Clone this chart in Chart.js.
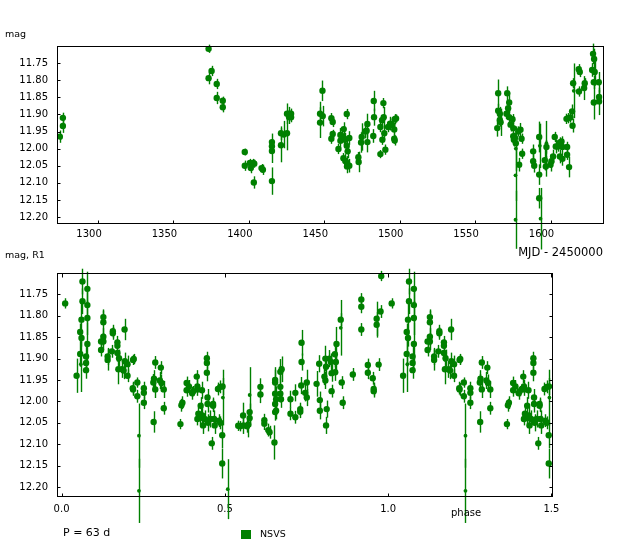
<!DOCTYPE html>
<html>
<head>
<meta charset="utf-8">
<script src="https://cdn.jsdelivr.net/npm/chart.js@4.4.0/dist/chart.umd.min.js"></script>
<style>
  body { margin: 0; background: #fff; width: 624px; height: 554px; overflow: hidden; position: relative; }
  canvas { position: absolute; left: 0; }
  #lc { top: 0; }
  #ph { top: 258px; }
</style>
</head>
<body>
<canvas id="lc" width="624" height="262"></canvas>
<canvas id="ph" width="624" height="296"></canvas>
<script>
// light curve, MJD - 2450000
var lcMjd = [1274.7, 1276.7, 1276.7, 1373.3, 1375.3, 1373.3, 1378.7, 1378.7, 1382.7, 1382.7,
  1397.3, 1397.3, 1400.7, 1401.3, 1402.9, 1403.6, 1403.3, 1408.4, 1409.3, 1415.3,
  1415.3, 1415.3, 1415.3, 1421.3, 1421.3, 1423.1, 1425.3, 1425.3, 1426.7, 1426.7,
  1428.0, 1428.0,
  1448.8, 1447.2, 1449.0, 1447.2, 1454.7, 1455.6, 1455.6, 1454.7, 1464.9, 1462.9,
  1460.7, 1462.0, 1463.1, 1460.7, 1464.0, 1466.6, 1459.4, 1464.9, 1465.5, 1462.7,
  1464.0, 1465.1, 1466.6, 1465.1, 1472.6, 1472.8, 1474.8, 1474.4, 1477.0, 1478.6,
  1478.1, 1478.6, 1482.8, 1483.0, 1482.5, 1489.2, 1489.4, 1489.8, 1488.5, 1487.2,
  1487.2, 1490.5, 1492.3, 1493.6, 1495.1, 1496.7, 1497.6, 1496.4, 1496.4, 1496.7,
  1488.3,
  1565.3, 1565.3, 1566.4, 1564.7, 1566.4, 1566.9, 1571.3, 1571.9, 1572.6, 1570.8,
  1572.6, 1573.5, 1574.8, 1575.3, 1575.3, 1576.4, 1577.0, 1575.7, 1578.6, 1580.1,
  1580.8, 1581.2, 1579.2, 1577.0, 1576.8, 1576.8, 1588.5, 1588.5, 1589.2, 1592.5,
  1592.9, 1592.5, 1592.5, 1593.4, 1596.2, 1596.9, 1597.3, 1597.3, 1600.0, 1600.6,
  1602.8, 1603.5, 1601.7, 1604.9, 1606.2, 1607.3, 1607.9, 1606.2, 1607.9, 1611.0,
  1611.0, 1612.3, 1610.6, 1611.7, 1613.2, 1614.3, 1614.6, 1615.0, 1615.4, 1618.7,
  1619.4, 1618.9, 1622.7, 1622.3, 1628.2, 1628.9, 1627.6, 1629.3, 1628.7, 1632.0,
  1632.2, 1632.2, 1628.7];
var lcMag = [11.965, 11.934, 11.910, 11.708, 11.773, 11.794, 11.811, 11.852, 11.860, 11.879,
  12.010, 12.050, 12.042, 12.057, 12.042, 12.044, 12.099, 12.057, 12.062, 11.981,
  11.993, 12.007, 12.095, 11.955, 11.990, 11.959, 11.955, 11.898, 11.908, 11.898,
  11.898, 11.908,
  11.831, 11.898, 11.905, 11.924, 11.911, 11.922, 11.957, 11.971, 11.899, 11.943,
  11.960, 11.964, 11.970, 11.977, 11.974, 11.969, 12.001, 11.992, 12.008, 12.028,
  12.036, 12.042, 12.050, 12.052, 12.025, 12.039, 11.966, 11.982, 11.950, 11.928,
  11.948, 11.981, 11.861, 11.908, 11.963, 11.867, 11.908, 11.955, 11.974, 11.937,
  12.016, 12.003, 11.937, 11.927, 11.931, 11.914, 11.912, 11.944, 11.971, 11.976,
  11.917,
  11.838, 11.889, 11.898, 11.940, 11.916, 11.923, 11.838, 11.882, 11.865, 11.898,
  11.908, 11.930, 11.914, 11.940, 11.964, 11.969, 11.984, 11.974, 11.950, 11.945,
  11.971, 12.015, 12.047, 12.000, 12.078, 12.208, 12.008, 12.037, 12.050, 11.966,
  11.992, 12.076, 12.145, 12.205, 12.034, 12.052, 11.984, 11.995, 12.047, 12.037,
  11.966, 11.994, 12.023, 11.994, 11.982, 11.979, 11.995, 12.023, 12.030, 11.995,
  12.018, 12.054, 11.913, 11.911, 11.909, 11.891, 11.933, 11.809, 11.831, 11.768,
  11.776, 11.833, 11.809, 11.823, 11.723, 11.738, 11.770, 11.776, 11.806, 11.806,
  11.849, 11.862, 11.865];
var lcErr = [0.018, 0.02, 0.015, 0.012, 0.015, 0.018, 0.015, 0.018, 0.012, 0.015,
  0.01, 0.015, 0.012, 0.015, 0.012, 0.012, 0.018, 0.012, 0.015, 0.025,
  0.02, 0.035, 0.04, 0.02, 0.05, 0.04, 0.05, 0.03, 0.02, 0.02,
  0.015, 0.015,
  0.03, 0.035, 0.03, 0.045, 0.015, 0.015, 0.012, 0.015, 0.015, 0.02,
  0.02, 0.02, 0.02, 0.02, 0.02, 0.02, 0.015, 0.02, 0.02, 0.015,
  0.02, 0.02, 0.02, 0.02, 0.015, 0.03, 0.04, 0.03, 0.02, 0.03,
  0.02, 0.03, 0.03, 0.025, 0.02, 0.015, 0.03, 0.02, 0.015, 0.015,
  0.012, 0.015, 0.015, 0.02, 0.02, 0.015, 0.012, 0.015, 0.015, 0.015,
  0.015,
  0.04, 0.02, 0.02, 0.025, 0.02, 0.04, 0.02, 0.02, 0.03, 0.015,
  0.02, 0.02, 0.015, 0.02, 0.02, 0.015, 0.02, 0.02, 0.015, 0.02,
  0.015, 0.015, 0.02, 0.065, 0.075, 0.085, 0.02, 0.02, 0.02, 0.045,
  0.065, 0.03, 0.03, 0.09, 0.03, 0.03, 0.065, 0.02, 0.02, 0.02,
  0.015, 0.02, 0.02, 0.015, 0.015, 0.015, 0.015, 0.02, 0.02, 0.015,
  0.015, 0.03, 0.015, 0.015, 0.015, 0.02, 0.02, 0.015, 0.08, 0.015,
  0.015, 0.015, 0.015, 0.035, 0.03, 0.03, 0.02, 0.04, 0.02, 0.03,
  0.02, 0.04, 0.05];

// folded light curve, P = 63 d (phase 0..1, repeated up to 1.5)
var phPhase = [0.011, 0.046, 0.064, 0.064, 0.061, 0.057, 0.061, 0.057, 0.059, 0.079,
  0.079, 0.079, 0.079, 0.075, 0.075, 0.075, 0.128, 0.128, 0.121, 0.128,
  0.128, 0.121, 0.141, 0.141, 0.154, 0.157, 0.157, 0.171, 0.171, 0.171,
  0.176, 0.174, 0.185, 0.190, 0.193, 0.194, 0.202, 0.202, 0.219, 0.221,
  0.218, 0.219, 0.232, 0.232, 0.237, 0.237, 0.252, 0.252, 0.252, 0.281,
  0.283, 0.287, 0.287, 0.282, 0.301, 0.304, 0.306, 0.313, 0.313, 0.367,
  0.370, 0.364, 0.383, 0.383, 0.390, 0.400, 0.403, 0.414, 0.416, 0.416,
  0.416, 0.419, 0.424, 0.426, 0.430, 0.431, 0.433, 0.438, 0.445, 0.445,
  0.445, 0.447, 0.447, 0.449, 0.455, 0.460, 0.464, 0.464, 0.467, 0.469,
  0.482, 0.486, 0.479, 0.486, 0.493, 0.494, 0.492, 0.492, 0.509, 0.541,
  0.547, 0.556, 0.557, 0.568, 0.572, 0.576, 0.576, 0.576, 0.609, 0.609,
  0.621, 0.621, 0.633, 0.637, 0.652, 0.654, 0.654, 0.654, 0.657, 0.654,
  0.657, 0.654, 0.670, 0.674, 0.670, 0.670, 0.672, 0.701, 0.701, 0.716,
  0.716, 0.731, 0.731, 0.735, 0.735, 0.734, 0.746, 0.751, 0.751, 0.781,
  0.789, 0.791, 0.791, 0.805, 0.808, 0.810, 0.808, 0.812, 0.810, 0.820,
  0.825, 0.827, 0.827, 0.837, 0.840, 0.838, 0.842, 0.855, 0.855, 0.858,
  0.861, 0.892, 0.918, 0.918, 0.918, 0.938, 0.938, 0.953, 0.956, 0.956,
  0.965, 0.965, 0.977, 0.971, 0.979];
var phMag = [11.771, 11.940, 11.720, 11.766, 11.809, 11.838, 11.852, 11.889, 11.913, 11.737,
  11.775, 11.805, 11.866, 11.895, 11.910, 11.927, 11.803, 11.815, 11.860, 11.860,
  11.849, 11.880, 11.895, 11.903, 11.883, 11.836, 11.841, 11.862, 11.870, 11.887,
  11.899, 11.925, 11.925, 11.928, 11.832, 11.906, 11.913, 11.940, 11.903, 11.901,
  11.969, 11.972, 11.956, 11.988, 12.080, 12.209, 11.969, 11.980, 12.003, 11.956,
  11.947, 11.909, 11.972, 12.048, 11.951, 11.921, 11.957, 11.972, 12.016, 12.009,
  12.003, 12.053, 11.957, 11.974, 11.965, 11.981, 11.976, 11.942, 11.965, 11.972,
  12.041, 12.029, 12.039, 12.010, 11.974, 12.033, 12.056, 12.041, 11.899, 11.910,
  11.933, 11.991, 12.006, 12.050, 12.041, 12.098, 12.006, 12.010, 12.041, 12.056,
  12.045, 12.050, 11.971, 11.966, 11.965, 11.991, 12.079, 12.145, 12.205, 12.057,
  12.058, 12.033, 12.056, 12.058, 12.054, 11.985, 12.025, 12.039, 11.966, 11.984,
  12.044, 12.052, 12.067, 12.072, 12.096, 11.950, 11.956, 11.982, 11.995, 12.006,
  12.022, 12.025, 11.931, 11.925, 11.966, 11.982, 11.995, 11.995, 12.029, 11.980,
  12.037, 12.018, 12.024, 11.863, 11.908, 11.963, 11.980, 11.991, 11.956, 11.959,
  11.912, 11.997, 12.022, 11.942, 11.900, 11.919, 11.951, 12.018, 12.056, 11.900,
  11.908, 11.934, 11.976, 11.890, 11.908, 11.932, 11.866, 11.809, 11.828, 11.956,
  12.003, 11.937, 11.762, 11.779, 11.832, 11.915, 11.933, 11.946, 11.971, 11.976,
  11.807, 11.821, 11.790, 11.914, 11.707];
var phErr = [0.012, 0.04, 0.03, 0.03, 0.04, 0.02, 0.02, 0.03, 0.065, 0.04,
  0.04, 0.04, 0.05, 0.03, 0.02, 0.02, 0.015, 0.03, 0.015, 0.02,
  0.02, 0.015, 0.02, 0.025, 0.015, 0.015, 0.015, 0.015, 0.015, 0.02,
  0.02, 0.035, 0.02, 0.02, 0.025, 0.02, 0.02, 0.015, 0.012, 0.012,
  0.015, 0.015, 0.012, 0.015, 0.075, 0.075, 0.015, 0.015, 0.015, 0.02,
  0.02, 0.015, 0.02, 0.025, 0.02, 0.015, 0.02, 0.02, 0.015, 0.015,
  0.015, 0.012, 0.015, 0.015, 0.015, 0.015, 0.012, 0.015, 0.015, 0.015,
  0.015, 0.015, 0.015, 0.02, 0.02, 0.02, 0.02, 0.02, 0.015, 0.015,
  0.02, 0.02, 0.02, 0.02, 0.02, 0.015, 0.015, 0.015, 0.02, 0.02,
  0.015, 0.015, 0.015, 0.015, 0.02, 0.065, 0.03, 0.035, 0.07, 0.012,
  0.012, 0.03, 0.02, 0.015, 0.03, 0.065, 0.02, 0.02, 0.02, 0.02,
  0.015, 0.015, 0.015, 0.015, 0.04, 0.03, 0.03, 0.03, 0.03, 0.02,
  0.02, 0.02, 0.03, 0.03, 0.03, 0.02, 0.02, 0.02, 0.015, 0.02,
  0.015, 0.015, 0.015, 0.03, 0.02, 0.02, 0.02, 0.02, 0.03, 0.03,
  0.02, 0.02, 0.02, 0.02, 0.03, 0.02, 0.02, 0.02, 0.02, 0.02,
  0.02, 0.02, 0.015, 0.03, 0.02, 0.02, 0.04, 0.015, 0.065, 0.015,
  0.015, 0.015, 0.015, 0.015, 0.015, 0.015, 0.015, 0.015, 0.015, 0.015,
  0.04, 0.03, 0.015, 0.015, 0.012];

var lcXTicks = [1300, 1350, 1400, 1450, 1500, 1550, 1600];
var phXTicks = [0, 0.5, 1.0, 1.5];
var magTicks = [11.75, 11.80, 11.85, 11.90, 11.95, 12.00, 12.05, 12.10, 12.15, 12.20];

var GREEN = '#008000';
var FONT = 'DejaVu Sans';
Chart.defaults.color = '#000';
Chart.defaults.font.family = FONT;

var lcPoints = lcMjd.map(function(x, i) { return { x: x, y: lcMag[i], e: lcErr[i] }; });
var phPoints = phPhase.map(function(x, i) { return { x: x, y: phMag[i], e: phErr[i] }; });
phPhase.forEach(function(x, i) {
  if (x <= 0.5) phPoints.push({ x: x + 1, y: phMag[i], e: phErr[i] });
});

// vertical error bars, drawn under the points and not clipped
var errBars = {
  id: 'errBars',
  beforeDatasetsDraw: function(chart) {
    var ctx = chart.ctx, xs = chart.scales.x, ys = chart.scales.y;
    ctx.save();
    ctx.strokeStyle = GREEN;
    ctx.lineWidth = 1.4;
    chart.data.datasets.forEach(function(ds) {
      ds.data.forEach(function(p) {
        if (p.x < xs.min || p.x > xs.max) return;
        var x = Math.round(xs.getPixelForValue(p.x)) + 0.5;
        ctx.beginPath();
        ctx.moveTo(x, ys.getPixelForValue(p.y - p.e));
        ctx.lineTo(x, ys.getPixelForValue(p.y + p.e));
        ctx.stroke();
      });
    });
    ctx.restore();
  }
};

// box round the plot with inner tick marks
var frame = {
  id: 'frame',
  afterDatasetsDraw: function(chart, args, opts) {
    var ctx = chart.ctx, a = chart.chartArea;
    var xs = chart.scales.x, ys = chart.scales.y;
    var l = Math.round(a.left) + 0.5, r = Math.round(a.right) + 0.5;
    var t = Math.round(a.top) + 0.5, b = Math.round(a.bottom) + 0.5;
    ctx.save();
    ctx.strokeStyle = '#000';
    ctx.lineWidth = 1;
    ctx.strokeRect(l, t, r - l, b - t);
    ctx.beginPath();
    xs.ticks.forEach(function(tk) {
      var x = Math.round(xs.getPixelForValue(tk.value)) + 0.5;
      ctx.moveTo(x, b); ctx.lineTo(x, b - 3);
      if (opts.allSides) { ctx.moveTo(x, t); ctx.lineTo(x, t + 4); }
    });
    ys.ticks.forEach(function(tk) {
      var y = Math.round(ys.getPixelForValue(tk.value)) + 0.5;
      ctx.moveTo(l, y); ctx.lineTo(l + 3, y);
      if (opts.allSides) { ctx.moveTo(r, y); ctx.lineTo(r - 3, y); }
    });
    ctx.stroke();
    ctx.restore();
  }
};

// free text labels and the small legend
var notes = {
  id: 'notes',
  afterDraw: function(chart, args, opts) {
    var ctx = chart.ctx;
    ctx.save();
    ctx.fillStyle = '#000';
    ctx.textBaseline = 'middle';
    (opts.items || []).forEach(function(it) {
      ctx.font = it.size + 'px "' + FONT + '"';
      ctx.textAlign = it.align || 'left';
      ctx.fillText(it.text, it.x, it.y);
    });
    if (opts.legend) {
      var lg = opts.legend;
      ctx.fillStyle = chart.data.datasets[0].backgroundColor;
      ctx.fillRect(lg.x, lg.y, 10, 9);
      ctx.fillStyle = '#000';
      ctx.font = '9.5px "' + FONT + '"';
      ctx.textAlign = 'left';
      ctx.fillText(chart.data.datasets[0].label, lg.x + 19, lg.y + 5);
    }
    ctx.restore();
  }
};

function pointSize(c) {
  return c.raw && c.raw.e > 0.06 ? 1.9 : 3.2;
}

function makeChart(id, points, o) {
  return new Chart(document.getElementById(id), {
    type: 'scatter',
    data: {
      datasets: [{
        label: 'NSVS',
        data: points,
        backgroundColor: GREEN,
        borderWidth: 0,
        pointRadius: pointSize,
        pointHoverRadius: pointSize
      }]
    },
    options: {
      responsive: false,
      animation: false,
      events: [],
      layout: { padding: o.padding },
      plugins: {
        legend: { display: false },
        tooltip: { enabled: false },
        frame: { allSides: o.allSides },
        notes: { items: o.notes, legend: o.legend }
      },
      scales: {
        x: {
          type: 'linear',
          min: o.xMin,
          max: o.xMax,
          grid: { display: false, drawTicks: false },
          border: { display: false },
          afterBuildTicks: function(s) { s.ticks = o.xTicks.map(function(v) { return { value: v }; }); },
          afterFit: function(s) { s.height = o.xHeight; },
          ticks: {
            font: { size: 10 },
            padding: o.xPad,
            labelOffset: o.xLabelOffset,
            maxRotation: 0,
            callback: o.xFmt
          }
        },
        y: {
          reverse: true,
          min: 11.70,
          max: o.yMax,
          grid: { display: false, drawTicks: false },
          border: { display: false },
          afterBuildTicks: function(s) { s.ticks = magTicks.map(function(v) { return { value: v }; }); },
          afterFit: function(s) { s.width = 57; },
          ticks: {
            font: { size: 10 },
            padding: 9,
            callback: function(v) { return v.toFixed(2); }
          }
        }
      }
    },
    plugins: [errBars, frame, notes]
  });
}

makeChart('lc', lcPoints, {
  xMin: 1272.8, xMax: 1634.8, yMax: 12.2175,
  xTicks: lcXTicks,
  xFmt: function(v) { return String(v); },
  xHeight: 39, xPad: 5, xLabelOffset: -9,
  padding: { top: 46, right: 21, left: 0, bottom: 0 },
  allSides: false,
  notes: [
    { text: 'mag', x: 5, y: 35, size: 9.5 },
    { text: 'mag, R1', x: 5, y: 256, size: 9.5 },
    { text: 'MJD - 2450000', x: 603, y: 253, size: 11.5, align: 'right' }
  ]
});

makeChart('ph', phPoints, {
  xMin: -0.014, xMax: 1.502, yMax: 12.221,
  xTicks: phXTicks,
  xFmt: function(v) { return v.toFixed(1); },
  xHeight: 58, xPad: 7, xLabelOffset: 0,
  padding: { top: 9, right: 72, left: 0, bottom: 0 },
  allSides: true,
  notes: [
    { text: 'phase', x: 451, y: 255, size: 10 },
    { text: 'P = 63 d', x: 63, y: 275, size: 11 }
  ],
  legend: { x: 241, y: 272 }
});
</script>
</body>
</html>
